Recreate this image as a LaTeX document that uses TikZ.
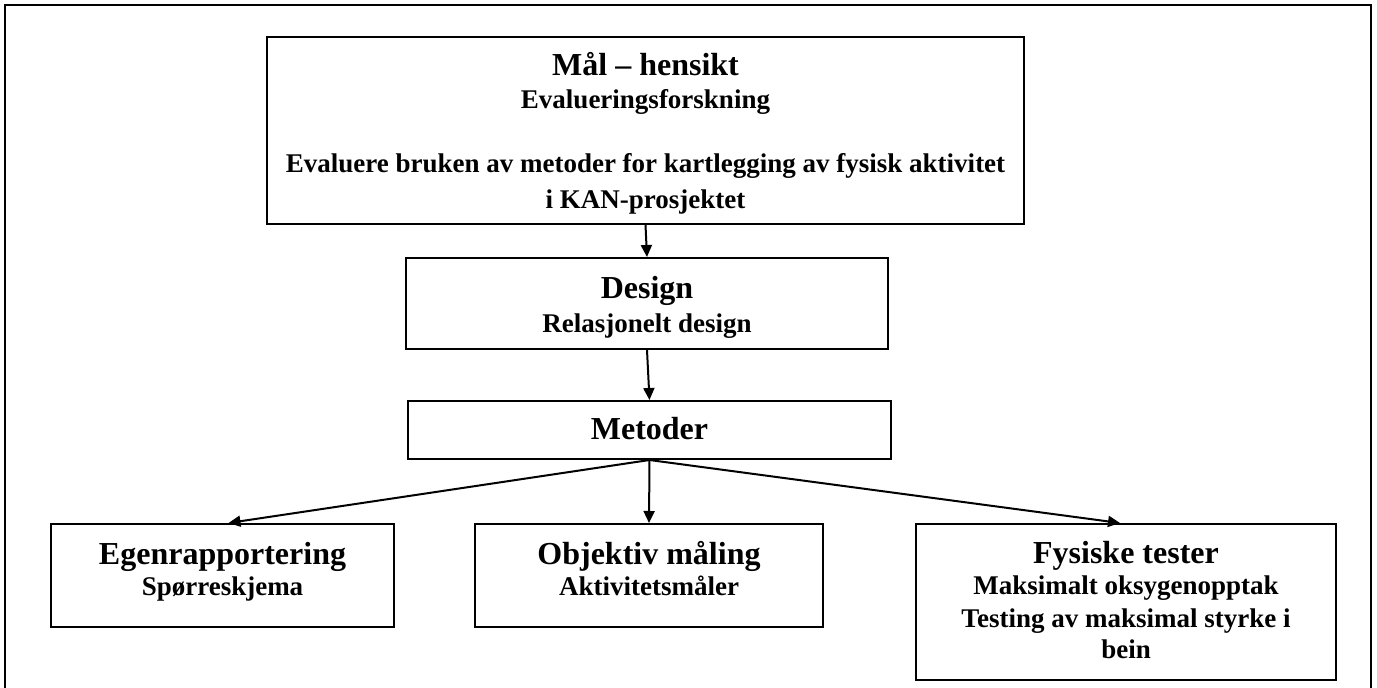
\documentclass[tikz,border=0pt]{standalone}
\usepackage{fontspec}
\setmainfont{Liberation Serif}
\usetikzlibrary{arrows.meta}
\newcommand{\boxhead}[2][25]{{\fontsize{32}{31}\selectfont\rule{0pt}{#1pt}#2}}
\newcommand{\boxfoot}[1]{\rule[-#1pt]{0pt}{#1pt}}

\begin{document}
\begin{tikzpicture}[x=1pt,y=-1pt,
    box/.style={draw,line width=2pt,align=center,inner sep=0pt,
      font=\bfseries\fontsize{27}{31}\selectfont},
    link/.style={line width=2pt,-{Triangle[length=12pt,width=11pt]}}]
            \useasboundingbox (0,0) rectangle (1377,688);
            \draw[line width=2.5pt] (5,5) rectangle (1371,694);

            \node[box,minimum width=757pt,minimum height=187pt] (goal) at (645.5,130.5)
                {\boxhead[30]{Mål – hensikt}\\[2pt] Evalueringsforskning\\[33pt]
                 Evaluere bruken av metoder for kartlegging av fysisk aktivitet\\[5pt]
                 i KAN-prosjektet\boxfoot{8}};
            \node[box,minimum width=482pt,minimum height=91pt] (design) at (647,303.5)
                {\boxhead[31]{Design}\\[3pt] Relasjonelt design\boxfoot{8}};
            \node[box,minimum width=483pt,minimum height=58pt] (methods) at (649.5,430)
                {\boxhead[26]{Metoder}\boxfoot{8}};

            \node[box,minimum width=343pt,minimum height=103pt] (selfreport) at (222.5,575.5)
                {\boxhead{Egenrapportering}\\ Spørreskjema\boxfoot{17}};
            \node[box,minimum width=348pt,minimum height=103pt] (objective) at (649,575.5)
                {\boxhead{Objektiv måling}\\ Aktivitetsmåler\boxfoot{17}};
            \node[box,minimum width=420pt,minimum height=156pt] (physical) at (1126,602)
                {\boxhead{Fysiske tester}\\ Maksimalt oksygenopptak\\[2pt]
                 Testing av maksimal styrke i\\ bein\boxfoot{8}};

            \draw[link] (goal.south) -- (design.north);
            \draw[link] (design.south) -- (methods.north);
            \draw[link] (methods.south) -- ([xshift=6pt]selfreport.north);
            \draw[link] (methods.south) -- (objective.north);
            \draw[link] (methods.south) -- ([xshift=-6pt]physical.north);
        \end{tikzpicture}
\end{document}
